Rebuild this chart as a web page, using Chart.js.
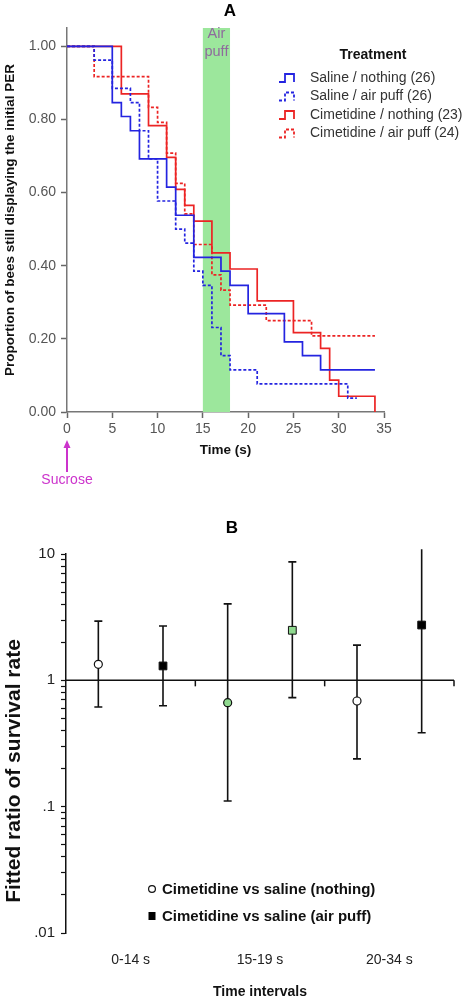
<!DOCTYPE html>
<html>
<head>
<meta charset="utf-8">
<script src="https://cdn.jsdelivr.net/npm/chart.js@4.4.1/dist/chart.umd.min.js"></script>
<style>
  html, body { margin: 0; padding: 0; background: #fff; }
  #chartA { position: absolute; left: 0; top: 0; }
  #chartB { position: absolute; left: 0; top: 490px; }
</style>
</head>
<body>
<canvas id="chartA" width="465" height="500"></canvas>
<canvas id="chartB" width="465" height="509"></canvas>
<script>
// ---- panel A: survival curves (time in s, proportion still responding) ----
const salineNothingT = [0, 5, 6, 7, 8, 11, 12, 14, 17, 18, 20, 24, 26, 28, 34];
const salineNothingS = [1, 0.846, 0.808, 0.769, 0.692, 0.615, 0.538, 0.423, 0.385, 0.346, 0.269, 0.192, 0.154, 0.115, 0.115];

const salinePuffT = [0, 3, 5, 7, 8, 9, 10, 12, 13, 14, 15, 16, 17, 18, 21, 31, 32];
const salinePuffS = [1, 0.962, 0.885, 0.846, 0.769, 0.692, 0.577, 0.5, 0.462, 0.385, 0.346, 0.231, 0.154, 0.115, 0.077, 0.038, 0.038];

const cimNothingT = [0, 6, 9, 11, 12, 13, 14, 16, 18, 21, 25, 28, 29, 30, 34];
const cimNothingS = [1, 0.870, 0.783, 0.696, 0.609, 0.565, 0.522, 0.435, 0.391, 0.304, 0.217, 0.174, 0.087, 0.043, 0];

const cimPuffT = [0, 3, 9, 10, 11, 12, 13, 14, 16, 17, 18, 22, 27, 34];
const cimPuffS = [1, 0.917, 0.833, 0.792, 0.708, 0.625, 0.542, 0.458, 0.375, 0.333, 0.292, 0.25, 0.208, 0.208];

const yTicksA = [0, 0.2, 0.4, 0.6, 0.8, 1.0];
const puffStart = 15, puffEnd = 18;

// ---- panel B: fitted ratio of survival rate per interval ----
const intervalLabels = ['0-14 s', '15-19 s', '20-34 s'];
const ratioNothing = [1.34, 0.665, 0.686];
const lowNothing = [0.615, 0.111, 0.239];
const highNothing = [2.94, 4.03, 1.90];
const ratioPuff = [1.30, 2.49, 2.74];
const lowPuff = [0.63, 0.73, 0.385];
const highPuff = [2.69, 8.66, 10.9];

const FONT = '"Liberation Sans", Arial, sans-serif';
Chart.defaults.font.family = FONT;
Chart.defaults.animation = false;

const BLUE = '#2424e0';
const RED = '#ec2424';

function pts(t, s) {
  return t.map((v, i) => ({ x: v, y: s[i] }));
}

function kmLine(label, t, s, color, dashed) {
  return {
    label: label,
    data: pts(t, s),
    borderColor: color,
    borderWidth: 1.7,
    borderDash: dashed ? [3, 2] : [],
    stepped: 'before',
    pointRadius: 0,
    fill: false
  };
}

const panelAExtras = {
  id: 'panelAExtras',
  beforeDatasetsDraw(chart) {
    const { ctx, scales: { x, y } } = chart;
    const x1 = x.getPixelForValue(puffStart);
    const x2 = x.getPixelForValue(puffEnd);
    const top = y.getPixelForValue(y.max);
    const bot = y.getPixelForValue(0);
    ctx.save();
    ctx.fillStyle = '#9ce79c';
    ctx.fillRect(x1, top, x2 - x1, bot - top);
    ctx.fillStyle = '#8e6b9c';
    ctx.font = '14.5px ' + FONT;
    ctx.textAlign = 'center';
    ctx.textBaseline = 'middle';
    ctx.fillText('Air', (x1 + x2) / 2, 34);
    ctx.fillText('puff', (x1 + x2) / 2, 52);
    ctx.restore();
  },
  afterDraw(chart) {
    const { ctx, scales: { x } } = chart;
    ctx.save();
    // panel letter
    ctx.fillStyle = '#000';
    ctx.font = 'bold 17px ' + FONT;
    ctx.textAlign = 'center';
    ctx.textBaseline = 'middle';
    ctx.fillText('A', 230, 11);

    // legend
    ctx.font = 'bold 14px ' + FONT;
    ctx.fillStyle = '#111';
    ctx.fillText('Treatment', 373, 55);
    ctx.font = '14px ' + FONT;
    ctx.textAlign = 'left';
    chart.data.datasets.forEach((ds, i) => {
      const yy = 78 + i * 18.5;
      ctx.strokeStyle = ds.borderColor;
      ctx.lineWidth = 1.8;
      ctx.setLineDash(ds.borderDash);
      ctx.beginPath();
      ctx.moveTo(279, yy + 4);
      ctx.lineTo(285, yy + 4);
      ctx.lineTo(285, yy - 4);
      ctx.lineTo(294, yy - 4);
      ctx.lineTo(294, yy + 4);
      ctx.stroke();
      ctx.setLineDash([]);
      ctx.fillStyle = '#333';
      ctx.fillText(ds.label, 310, yy);
    });

    // sucrose arrow at t = 0
    const x0 = x.getPixelForValue(0);
    ctx.strokeStyle = '#cc33cc';
    ctx.fillStyle = '#cc33cc';
    ctx.lineWidth = 2;
    ctx.beginPath();
    ctx.moveTo(x0, 472);
    ctx.lineTo(x0, 446);
    ctx.stroke();
    ctx.beginPath();
    ctx.moveTo(x0, 440);
    ctx.lineTo(x0 - 3.5, 448);
    ctx.lineTo(x0 + 3.5, 448);
    ctx.closePath();
    ctx.fill();
    ctx.font = '14px ' + FONT;
    ctx.textAlign = 'center';
    ctx.fillText('Sucrose', x0, 480);
    ctx.restore();
  }
};

new Chart(document.getElementById('chartA'), {
  type: 'line',
  data: {
    datasets: [
      kmLine('Saline / nothing (26)', salineNothingT, salineNothingS, BLUE, false),
      kmLine('Saline / air puff (26)', salinePuffT, salinePuffS, BLUE, true),
      kmLine('Cimetidine / nothing (23)', cimNothingT, cimNothingS, RED, false),
      kmLine('Cimetidine / air puff (24)', cimPuffT, cimPuffS, RED, true)
    ]
  },
  options: {
    responsive: false,
    layout: { padding: { left: 2, right: 81, top: 28, bottom: 42 } },
    plugins: { legend: { display: false }, tooltip: { enabled: false } },
    scales: {
      x: {
        type: 'linear',
        min: 0,
        max: 35,
        ticks: { stepSize: 5, color: '#555', font: { size: 14 }, padding: 3, maxRotation: 0 },
        grid: { drawOnChartArea: false, tickLength: 6, tickColor: '#666', tickWidth: 1.5 },
        border: { color: '#777', width: 1.5 },
        title: { display: true, text: 'Time (s)', color: '#111', font: { size: 13.5, weight: 'bold' }, padding: { top: 0, bottom: 0 } },
        afterFit: s => { s.height = 46; }
      },
      y: {
        type: 'linear',
        min: 0,
        max: 1.05,
        afterBuildTicks: s => { s.ticks = yTicksA.map(v => ({ value: v })); },
        ticks: { color: '#555', font: { size: 14 }, padding: 5, callback: v => v.toFixed(2) },
        grid: { drawOnChartArea: false, tickLength: 6, tickColor: '#666', tickWidth: 1.5 },
        border: { color: '#777', width: 1.5 },
        title: { display: true, text: 'Proportion of bees still displaying the initial PER', color: '#111', font: { size: 13.5, weight: 'bold' }, padding: { top: 0, bottom: 0 } },
        afterFit: s => { s.width = 65; }
      }
    }
  },
  plugins: [panelAExtras]
});

// ---- panel B ----
const logTicks = [];
[0.01, 0.1, 1].forEach(d => {
  for (let m = 1; m <= 9; m++) logTicks.push(+(m * d).toPrecision(3));
});
logTicks.push(10);
const logLabels = { 0.01: '.01', 0.1: '.1', 1: '1', 10: '10' };

const GREEN = '#8fd98f';

const panelBExtras = {
  id: 'panelBExtras',
  beforeDatasetsDraw(chart) {
    const { ctx, scales: { x, y }, chartArea } = chart;
    ctx.save();
    // reference line at ratio 1
    const y1 = y.getPixelForValue(1);
    ctx.strokeStyle = '#111';
    ctx.lineWidth = 1.5;
    ctx.beginPath();
    ctx.moveTo(chartArea.left, y1);
    ctx.lineTo(chartArea.right, y1);
    ctx.stroke();
    for (let k = 1; k <= intervalLabels.length; k++) {
      const xx = x.getPixelForValue(k);
      ctx.beginPath();
      ctx.moveTo(xx, y1);
      ctx.lineTo(xx, y1 + 6);
      ctx.stroke();
    }
    // confidence intervals
    chart.data.datasets.forEach(ds => {
      ds.data.forEach(p => {
        const xx = x.getPixelForValue(p.x);
        const top = y.getPixelForValue(Math.min(p.hi, 10.9));
        const bot = y.getPixelForValue(p.lo);
        ctx.lineWidth = 1.6;
        ctx.beginPath();
        ctx.moveTo(xx, top);
        ctx.lineTo(xx, bot);
        ctx.moveTo(xx - 4, bot);
        ctx.lineTo(xx + 4, bot);
        if (p.hi <= 10) {
          ctx.moveTo(xx - 4, top);
          ctx.lineTo(xx + 4, top);
        }
        ctx.stroke();
      });
    });
    ctx.restore();
  },
  afterDraw(chart) {
    const { ctx } = chart;
    ctx.save();
    ctx.fillStyle = '#000';
    ctx.font = 'bold 17px ' + FONT;
    ctx.textAlign = 'center';
    ctx.textBaseline = 'middle';
    ctx.fillText('B', 232, 38);

    // y title
    ctx.save();
    ctx.translate(14, 281);
    ctx.rotate(-Math.PI / 2);
    ctx.font = 'bold 21px ' + FONT;
    ctx.fillStyle = '#111';
    ctx.fillText('Fitted ratio of survival rate', 0, 0);
    ctx.restore();

    // legend
    ctx.font = 'bold 15px ' + FONT;
    ctx.textAlign = 'left';
    ctx.fillStyle = '#111';
    const rows = [399, 426];
    ctx.strokeStyle = '#111';
    ctx.lineWidth = 1.2;
    ctx.beginPath();
    ctx.arc(152, rows[0], 3.4, 0, Math.PI * 2);
    ctx.fillStyle = '#fff';
    ctx.fill();
    ctx.stroke();
    ctx.fillStyle = '#000';
    ctx.fillRect(148.5, rows[1] - 4, 7, 8);
    ctx.fillStyle = '#111';
    chart.data.datasets.forEach((ds, i) => ctx.fillText(ds.label, 162, rows[i] + 1));
    ctx.restore();
  }
};

function ciPoints(ratio, lo, hi, shift) {
  return ratio.map((r, i) => ({ x: i + shift, y: r, lo: lo[i], hi: hi[i] }));
}

new Chart(document.getElementById('chartB'), {
  type: 'scatter',
  data: {
    datasets: [
      {
        label: 'Cimetidine vs saline (nothing)',
        data: ciPoints(ratioNothing, lowNothing, highNothing, 0.25),
        pointStyle: 'circle',
        pointRadius: 4,
        pointBorderWidth: 1.2,
        pointBorderColor: '#111',
        pointBackgroundColor: ['#fff', GREEN, '#fff']
      },
      {
        label: 'Cimetidine vs saline (air puff)',
        data: ciPoints(ratioPuff, lowPuff, highPuff, 0.75),
        pointStyle: 'rect',
        pointRadius: 5.5,
        pointBorderWidth: 1,
        pointBorderColor: '#111',
        pointBackgroundColor: ['#000', GREEN, '#000']
      }
    ]
  },
  options: {
    responsive: false,
    layout: { padding: { left: 0, right: 11, top: 64, bottom: 0 } },
    plugins: { legend: { display: false }, tooltip: { enabled: false } },
    scales: {
      x: {
        type: 'linear',
        min: 0,
        max: intervalLabels.length,
        afterBuildTicks: s => { s.ticks = intervalLabels.map((_, i) => ({ value: i + 0.5 })); },
        ticks: { color: '#222', font: { size: 14 }, padding: 19, maxRotation: 0, callback: v => intervalLabels[Math.round(v - 0.5)] },
        grid: { display: false, drawTicks: false },
        border: { display: false },
        title: { display: true, text: 'Time intervals', color: '#111', font: { size: 14, weight: 'bold' }, padding: { top: 0, bottom: -2 } },
        afterFit: s => { s.height = 66; }
      },
      y: {
        type: 'logarithmic',
        min: 0.01,
        max: 10,
        afterBuildTicks: s => { s.ticks = logTicks.map(v => ({ value: v })); },
        ticks: { color: '#222', font: { size: 15 }, padding: 6, autoSkip: false, callback: v => logLabels[v] || '' },
        grid: { drawOnChartArea: false, tickLength: 5, tickColor: '#111', tickWidth: 1.2 },
        border: { color: '#111', width: 1.5 },
        afterFit: s => { s.width = 66; }
      }
    }
  },
  plugins: [panelBExtras]
});
</script>
</body>
</html>
